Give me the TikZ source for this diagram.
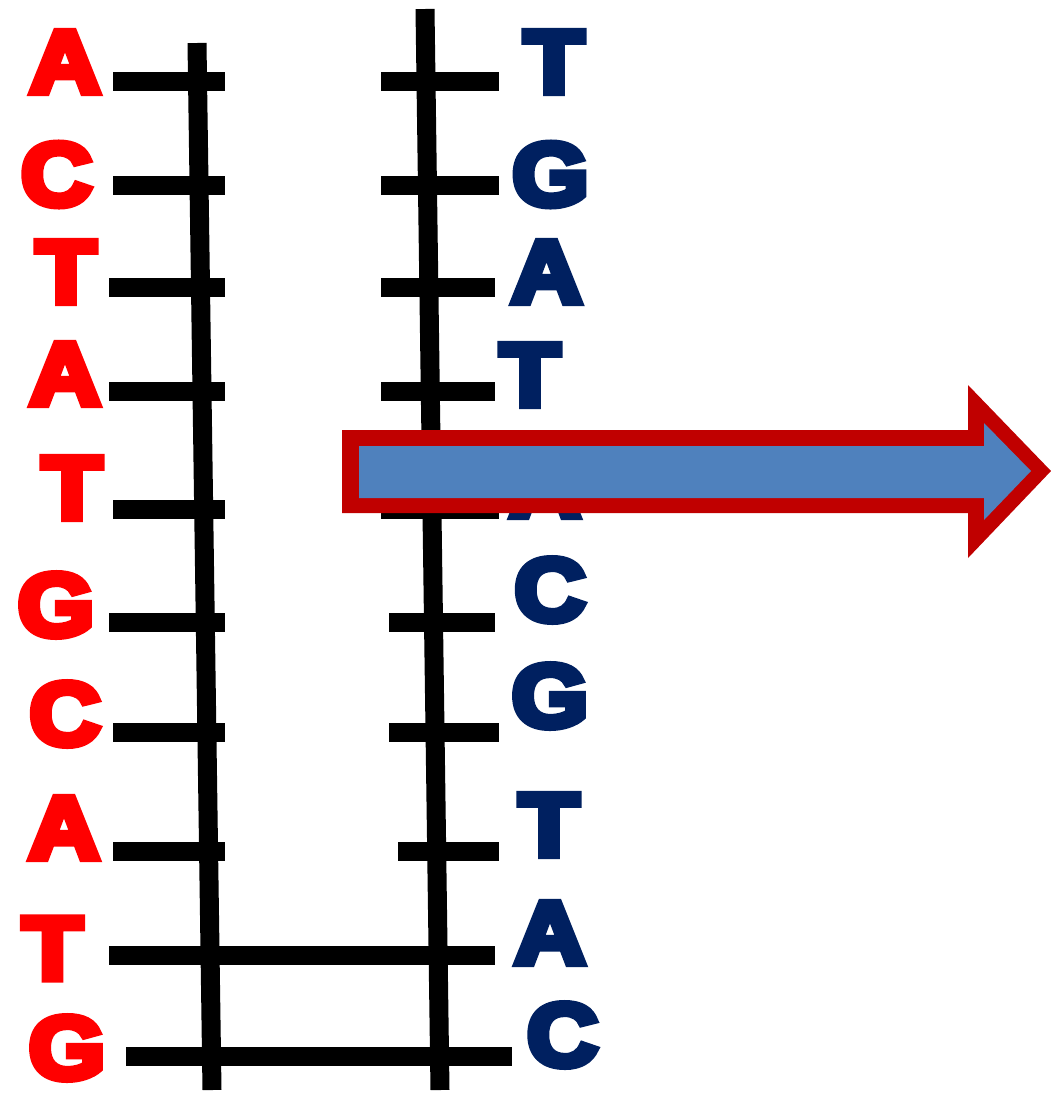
\documentclass[tikz,border=0pt]{standalone}
\usepackage{fontspec}
\newfontfamily\basefont{Liberation Sans Bold}
\definecolor{baseRed}{HTML}{FF0000}
\definecolor{baseNavy}{HTML}{002060}
\definecolor{arrowRim}{HTML}{C00000}
\definecolor{arrowFill}{HTML}{4F81BD}
% heavy glyphs: fill and stroke the outline in the text colour
\newcommand\heavyglyph[2]{%
  \special{pdf:literal direct q 2 Tr #1 RG 7 w 0 j 2 M}#2\special{pdf:literal direct Q}}
\begin{document}
\begin{tikzpicture}[x=1pt,y=-1pt,
  strand/.style={draw=black, line width=19pt},
  rung/.style={draw=black, line width=19pt},
  letter/.style={inner sep=0pt, font=\basefont\fontsize{89}{89}\selectfont},
  fwd/.style={letter, text=baseRed},
  rev/.style={letter, text=baseNavy},
  arrowrim/.style={fill=arrowRim, draw=none},
  arrowbody/.style={fill=arrowFill, draw=none}]
\useasboundingbox (0,0) rectangle (1051,1096);

% sugar-phosphate backbones
\coordinate (Ltop) at (197,43);
\coordinate (Lbot) at (212,1090);
\coordinate (Rtop) at (425,9);
\coordinate (Rbot) at (440,1090);
\draw[strand] (Ltop) -- (Lbot);
\draw[strand] (Rtop) -- (Rbot);

% unpaired base stubs: y / left start / right start / right end
\foreach \i/\y/\ls/\rs/\re in {1/81/113/381/499, 2/185/113/381/499,
  3/287/109/381/495, 4/391/109/381/495, 5/509/113/381/499,
  6/622/109/389/495, 7/732/113/389/499, 8/851/113/398/499}{
  \coordinate (la\i) at (\ls,\y);
  \coordinate (lb\i) at (225,\y);
  \coordinate (ra\i) at (\rs,\y);
  \coordinate (rb\i) at (\re,\y);
  \draw[rung] (la\i) -- (lb\i);
  \draw[rung] (ra\i) -- (rb\i);
}
% paired bases
\coordinate (la9) at (109,955);  \coordinate (rb9) at (495,955);
\coordinate (la10) at (126,1056); \coordinate (rb10) at (512,1056);
\draw[rung] (la9) -- (rb9);
\draw[rung] (la10) -- (rb10);

% template strand letters
\foreach \n/\x/\y/\b in {1/65/62/A, 2/56.5/174.5/C, 3/66/272/T, 4/65/374/A,
  5/72/488/T, 6/56/605/G, 7/65/714/C, 8/64/828/A, 9/52.5/948.5/T, 10/67/1048/G}{
  \node[fwd] (f\n) at (\x,\y) {\scalebox{1.1}[1]{\heavyglyph{1 0 0}{\b}}};
}
% complementary strand letters
\foreach \n/\x/\y/\b in {1/554/62/T, 2/550.5/174.5/G, 3/546.5/272/A, 4/530/375/T,
  5/545/486/A, 6/550/590/C, 7/550/696/G, 8/549/825/T, 9/550/933/A, 10/562.5/1035/C}{
  \node[rev] (r\n) at (\x,\y) {\scalebox{1.1}[1]{\heavyglyph{0 0.125 0.376}{\b}}};
}

% block arrow: red rim, blue body
\path[arrowrim] (342,430) -- (968,430) -- (968,385) -- (1051,471)
  -- (968,558) -- (968,513) -- (342,513) -- cycle;
\path[arrowbody] (359,446) -- (984,446) -- (984,423) -- (1031,471)
  -- (984,520) -- (984,498) -- (359,498) -- cycle;
\end{tikzpicture}
\end{document}
